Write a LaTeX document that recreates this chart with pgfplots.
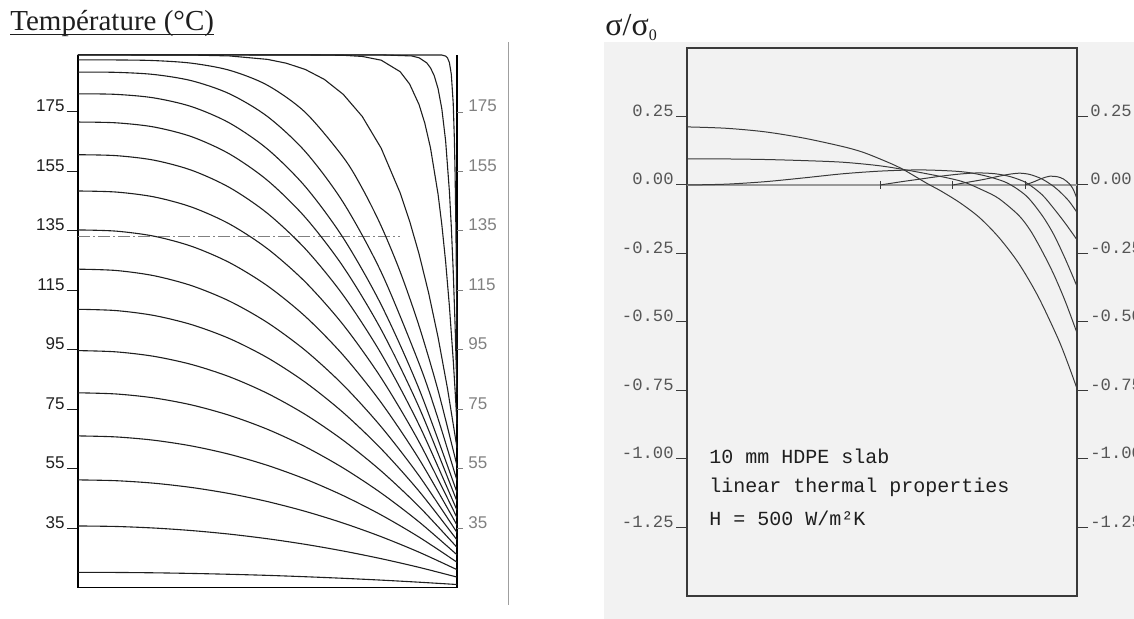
\documentclass[border=0pt]{standalone}
\usepackage{fontspec}
\setmainfont{Liberation Sans}
\newfontfamily\serifft{Liberation Serif}
\newfontfamily\monoft{Liberation Mono}
\usepackage{pgfplots}
\usepackage{pgfplotstable}
\pgfplotsset{compat=1.18}
\definecolor{ink}{HTML}{1E1E1E}
\definecolor{paper}{HTML}{F2F2F2}
\definecolor{pen}{HTML}{3A3A3A}
\definecolor{lbl}{HTML}{555555}

\pgfplotstableread{
x G H I J K L M N O P Q R S
0 181.1 171.6 160.6 148.4 135.3 122.1 108.6 94.7 80.5 66.0 51.2 35.7 20.1
0.1 180.91 171.34 160.30 148.05 134.90 121.66 108.17 94.28 80.11 65.66 50.93 35.53 20.06
0.2 179.73 169.94 158.78 146.43 133.21 119.91 106.53 92.78 78.79 64.55 50.09 35.01 19.94
0.3 176.77 166.66 155.37 142.98 129.78 116.54 103.43 90.02 76.41 62.61 48.64 34.15 19.73
0.4 171.26 160.84 149.56 137.28 124.29 111.33 98.73 85.88 72.90 59.80 46.59 32.95 19.44
0.5 162.50 151.96 140.87 128.97 116.48 104.11 92.29 80.29 68.22 56.08 43.91 31.40 19.08
0.6 149.84 139.47 128.91 117.75 106.16 94.74 84.02 73.19 62.33 51.46 40.60 29.51 18.62
0.7 132.57 122.88 113.29 103.34 93.12 83.09 73.82 64.49 55.18 45.90 36.66 27.27 18.09
0.8 110.11 101.74 93.65 85.49 77.18 69.06 61.64 54.18 46.77 39.40 32.09 24.69 17.48
0.9 81.77 75.59 69.67 63.95 58.19 52.57 47.38 42.20 37.05 31.94 26.87 21.77 16.78
1.0 47.0 44.0 41.0 38.5 36.0 33.5 31.0 28.5 26.0 23.5 21.0 18.5 16.0
}\tempcurves

\begin{document}
\begin{tikzpicture}
\useasboundingbox (0pt,0pt) rectangle (567pt,309.5pt);
\fill[paper] (302pt,0pt) rectangle (567pt,288.5pt);
\draw[gray!75, line width=0.5pt] (254pt,7pt) -- (254pt,288.5pt);
\node[anchor=base west, inner sep=0pt, font=\serifft\fontsize{14.5}{16}\selectfont, text=ink] (ttl) at (5pt,294pt) {Température (°C)};
\draw[ink, line width=0.5pt] ([yshift=-1.6pt]ttl.base west) -- ([yshift=-1.6pt]ttl.base east);
\node[anchor=base west, inner sep=0pt, font=\serifft\fontsize{16}{18}\selectfont, text=ink] at (302.5pt,291.5pt) {σ/σ\raisebox{-2.5pt}{\fontsize{8}{9}\selectfont 0}};

% ---------- left panel: temperature profiles ----------
\begin{axis}[
  at={(39pt,15.75pt)}, anchor=south west, scale only axis,
  width=189.5pt, height=267.5pt,
  xmin=0, xmax=1, ymin=15, ymax=195,
  axis line style={draw=none},
  xtick=\empty,
  ytick={35,55,75,95,115,135,155,175},
  yticklabels={35,55,75,95,115,135,155,175},
  ytick pos=left, tick align=outside, major tick length=5.5pt,
  tick style={ink, line width=0.5pt},
  yticklabel style={anchor=base east, inner sep=1pt, font=\fontsize{8.5}{10}\selectfont, text=ink},
  clip=false,
  curve/.style={black!88, line width=0.55pt},
]
\draw[black, line width=0.65pt] (rel axis cs:0,0.9956) -- (rel axis cs:0,0) -- (rel axis cs:1,0) -- (rel axis cs:1,0.9956);
\addplot[gray, line width=0.45pt, dash pattern=on 6pt off 1.5pt on 1pt off 1.5pt] coordinates {(0,133) (0.85,133)};
\pgfplotsinvokeforeach{G,H,I,J,K,L,M,N,O,P,Q,R,S}{
  \addplot[curve, smooth] table[x=x, y=#1] {\tempcurves};
}
% early curves
\addplot[curve, smooth] coordinates {(0,192.5) (0.1,192.49) (0.2,192.28) (0.3,191.39) (0.4,189.01) (0.5,183.97) (0.6,174.81) (0.7,159.73) (0.75,149.31) (0.8,136.59) (0.85,121.25) (0.9,102.94) (0.95,81.32) (1,56)};
\addplot[curve, smooth] coordinates {(0,188.4) (0.1,188.32) (0.2,187.60) (0.3,185.49) (0.4,181.08) (0.5,173.45) (0.6,161.61) (0.7,144.51) (0.8,121.11) (0.9,90.34) (0.95,71.80) (1,51)};
\addplot[curve] coordinates {(0,194.2) (0.3,194.14) (0.4,193.84) (0.5,192.68) (0.55,191.38) (0.6,189.27) (0.65,185.95) (0.7,180.90) (0.75,173.47) (0.8,162.78) (0.85,147.77) (0.875,138.25) (0.9,127.15) (0.925,114.18) (0.95,99.20) (0.975,81.88) (1,62)};
\addplot[curve] coordinates {(0,194.2) (0.6,194.19) (0.7,194.06) (0.75,193.67) (0.8,192.41) (0.85,188.54) (0.875,184.38) (0.9,177.43) (0.915,171.24) (0.93,162.94) (0.95,147.34) (0.96,137.02) (0.97,124.62) (0.98,109.58) (0.99,91.58) (0.995,81.28) (1,70)};
\addplot[curve] coordinates {(0,194.2) (0.8,194.2) (0.88,193.84) (0.9,193.21) (0.92,191.52) (0.93,189.85) (0.94,187.16) (0.95,182.85) (0.96,176.01) (0.97,165.25) (0.98,148.19) (0.985,136.35) (0.99,121.55) (0.995,103.06) (1,80)};
\addplot[curve] coordinates {(0,194.2) (0.96,194.14) (0.97,193.79) (0.975,193.16) (0.98,191.58) (0.985,187.65) (0.99,177.95) (0.993,166.19) (0.995,153.94) (0.997,136.45) (0.998,125.02) (0.999,111.34) (1,95)};
\end{axis}
% right labels of left panel
\begin{axis}[
  at={(39pt,15.75pt)}, anchor=south west, scale only axis,
  width=189.5pt, height=267.5pt,
  xmin=0, xmax=1, ymin=15, ymax=195,
  axis x line=none, axis y line*=right, axis line style={draw=none},
  ytick={35,55,75,95,115,135,155,175},
  yticklabels={35,55,75,95,115,135,155,175},
  tick align=outside, major tick length=3pt,
  tick style={gray, line width=0.4pt},
  yticklabel style={anchor=base west, xshift=1.5pt, inner sep=1pt, font=\fontsize{8.5}{10}\selectfont, text=gray},
]
\end{axis}

% ---------- right panel: stress profiles ----------
\begin{axis}[
  at={(343.5pt,11.5pt)}, anchor=south west, scale only axis,
  width=195pt, height=274pt,
  xmin=0, xmax=1, ymin=-1.5, ymax=0.5,
  axis line style={pen, line width=0.55pt},
  xtick=\empty,
  ytick={-1.25,-1,-0.75,-0.5,-0.25,0,0.25},
  yticklabels={-1.25,-1.00,-0.75,-0.50,-0.25,0.00,0.25},
  ytick pos=left, tick align=outside, major tick length=5.5pt,
  tick style={pen, line width=0.5pt},
  yticklabel style={anchor=base east, inner sep=1pt, font=\monoft\fontsize{8.6}{10}\selectfont, text=lbl},
  clip=false,
  sc/.style={pen, line width=0.5pt},
]
\addplot[gray!80, line width=0.55pt] coordinates {(0,0) (1,0)};
\addplot[sc, smooth] coordinates {(0,0.212) (0.1,0.207) (0.2,0.194) (0.3,0.171) (0.4,0.140) (0.45,0.120) (0.5,0.092) (0.55,0.060) (0.615,0.006) (0.65,-0.021) (0.7,-0.065) (0.75,-0.119) (0.8,-0.192) (0.85,-0.285) (0.9,-0.406) (0.95,-0.556) (0.975,-0.645) (1.0,-0.743)};
\addplot[sc, smooth] coordinates {(0,0.095) (0.1,0.095) (0.2,0.093) (0.3,0.089) (0.4,0.083) (0.5,0.069) (0.6,0.045) (0.7,0.015) (0.76,-0.02) (0.8,-0.05) (0.85,-0.11) (0.88,-0.165) (0.91,-0.24) (0.94,-0.325) (0.97,-0.425) (1.0,-0.54)};
\addplot[sc, smooth] coordinates {(0,0) (0.1,0.003) (0.2,0.012) (0.3,0.026) (0.4,0.041) (0.5,0.051) (0.6,0.055) (0.7,0.049) (0.76,0.035) (0.82,0.008) (0.87,-0.04) (0.91,-0.11) (0.94,-0.18) (0.97,-0.27) (1.0,-0.37)};
\addplot[sc, smooth] coordinates {(0.495,0) (0.55,0.012) (0.6,0.022) (0.65,0.032) (0.7,0.040) (0.745,0.044) (0.79,0.041) (0.83,0.030) (0.87,0.008) (0.91,-0.035) (0.94,-0.085) (0.97,-0.14) (1.0,-0.20)};
\addplot[sc, smooth] coordinates {(0.682,0) (0.72,0.01) (0.76,0.02) (0.80,0.032) (0.83,0.040) (0.855,0.043) (0.88,0.038) (0.91,0.022) (0.94,-0.005) (0.96,-0.03) (0.98,-0.06) (1.0,-0.10)};
\addplot[sc, smooth] coordinates {(0.867,0) (0.89,0.012) (0.91,0.024) (0.93,0.032) (0.95,0.030) (0.965,0.022) (0.98,0.005) (0.99,-0.015) (1.0,-0.05)};
\addplot[only marks, mark=|, mark size=2pt, pen, mark options={line width=0.5pt}] coordinates {(0.495,0) (0.682,0) (0.867,0)};
\end{axis}
% right labels of right panel
\begin{axis}[
  at={(343.5pt,11.5pt)}, anchor=south west, scale only axis,
  width=195pt, height=274pt,
  xmin=0, xmax=1, ymin=-1.5, ymax=0.5,
  axis x line=none, axis y line*=right, axis line style={draw=none},
  ytick={-1.25,-1,-0.75,-0.5,-0.25,0,0.25},
  yticklabels={-1.25,-1.00,-0.75,-0.50,-0.25,0.00,0.25},
  tick align=outside, major tick length=5.5pt,
  tick style={pen, line width=0.5pt},
  yticklabel style={anchor=base west, inner sep=1pt, font=\monoft\fontsize{8.6}{10}\selectfont, text=lbl},
]
\end{axis}
\node[anchor=west, inner sep=0pt, font=\monoft\fontsize{10}{12}\selectfont, text=ink] at (354.5pt,81.5pt) {10 mm HDPE slab};
\node[anchor=west, inner sep=0pt, font=\monoft\fontsize{10}{12}\selectfont, text=ink] at (354.5pt,66pt) {linear thermal properties};
\node[anchor=west, inner sep=0pt, font=\monoft\fontsize{10}{12}\selectfont, text=ink] at (354.5pt,50.5pt) {H = 500 W/m²K};
\end{tikzpicture}
\end{document}
